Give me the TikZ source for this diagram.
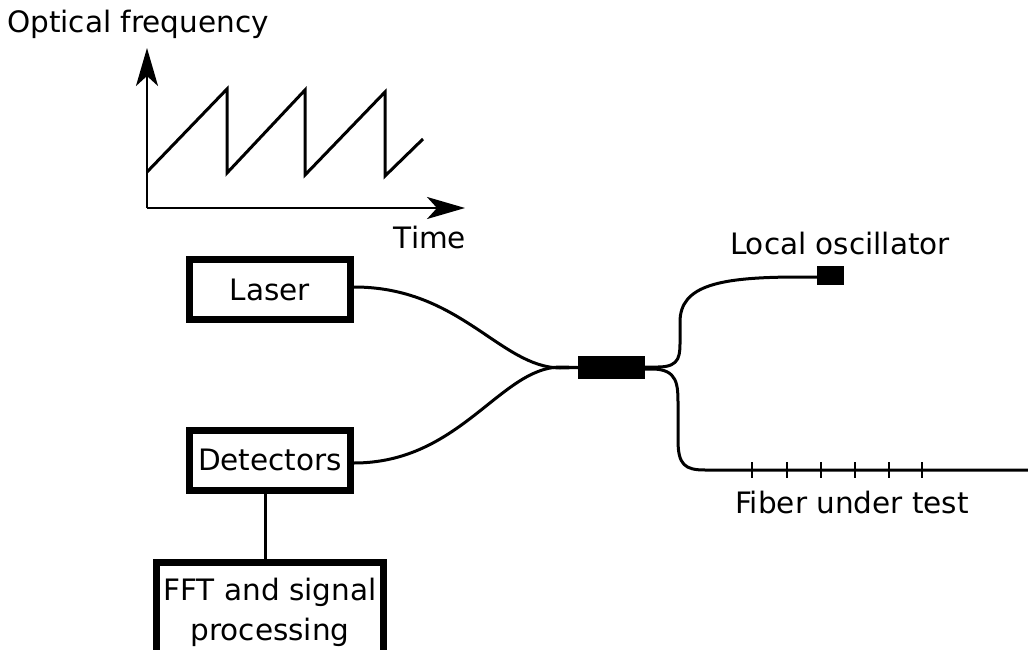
\documentclass[tikz,border=0pt]{standalone}
\usepackage{fontspec}
\setmainfont{DejaVu Sans}
\usetikzlibrary{arrows.meta}
\begin{document}
\begin{tikzpicture}[x=1pt,y=-1pt,
  lbl/.style={font=\fontsize{29.5}{40}\selectfont, inner sep=0pt},
  boxnode/.style={draw, line width=7pt, inner sep=0pt, font=\fontsize{29.5}{40}\selectfont, align=center},
  fiber/.style={line width=3pt},
  axisarrow/.style={line width=2.5pt, -{Stealth[length=38pt,width=22pt,inset=10pt]}},
  ticks/.style={line width=2.8pt}]
\useasboundingbox (0,0) rectangle (1028,650);
\clip (0,0) rectangle (1028,650);
% chart
\node[lbl] (of) at (138,24) {Optical frequency};
\coordinate (o) at (147,208);
\coordinate (ytip) at (147,48);
\coordinate (xtip) at (465,208);
\draw[axisarrow] (o) -- (ytip);
\draw[axisarrow] (o) -- (xtip);
\node[lbl] (time) at (430,238) {Time};
\draw[line width=3pt, line join=miter]
  (147,172) -- (227,89) -- (227,173) -- (305,90) -- (305,175) -- (385,92) -- (385,176) -- (423,139);
% boxes
\node[boxnode, minimum width=161pt, minimum height=60pt] (laser) at (270,289.5) {Laser};
\node[boxnode, minimum width=161pt, minimum height=60pt] (det) at (270,460) {Detectors};
\node[boxnode, minimum width=227pt, minimum height=100pt] (fft) at (270,612) {FFT and signal\\processing};
\draw[fiber] (det.south -| 265,0) -- (fft.north -| 265,0);
% coupler
\node[fill=black, minimum width=67pt, minimum height=23pt, inner sep=0pt] (cpl) at (611.5,367.5) {};
\node[fill=black, minimum width=27pt, minimum height=19pt, inner sep=0pt] (lo) at (830.5,275.5) {};
\node[lbl] (lotext) at (840,244) {Local oscillator};
\node[lbl] (futext) at (852,502) {Fiber under test};
\coordinate (fend) at (1030,470);
% fibers
\draw[fiber] (laser.east |- 0,287) .. controls (460,287) and (500,367) .. (560,368) -- (cpl.west);
\draw[fiber] (det.east |- 0,463) .. controls (460,463) and (500,368) .. (560,367) -- (cpl.west);
\draw[fiber] (cpl.east |- 0,367) -- (658,367) .. controls (681,367) and (680,355) .. (680,338)
  -- (680,322) .. controls (680,285) and (720,277) .. (800,277) -- (lo.west |- 0,277);
\draw[fiber] (cpl.east |- 0,369) -- (652,369) .. controls (678,369) and (678,385) .. (678,405)
  -- (678,440) .. controls (678,465) and (685,470) .. (705,470) -- (fend);
\foreach \x in {752,787,821,855,889,922}
  \draw[ticks] (\x,462) -- (\x,478);
\end{tikzpicture}
\end{document}
